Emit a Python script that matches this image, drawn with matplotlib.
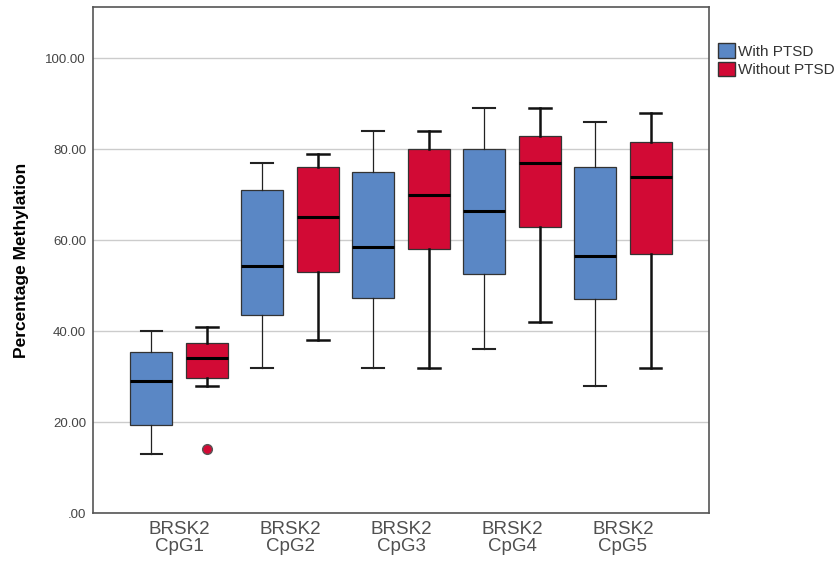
import numpy as np
import matplotlib.pyplot as plt
from matplotlib.patches import Patch
from matplotlib.ticker import FuncFormatter, MultipleLocator

plt.rcParams['font.family'] = ['Liberation Sans', 'DejaVu Sans']

categories = ["BRSK2\nCpG1", "BRSK2\nCpG2", "BRSK2\nCpG3", "BRSK2\nCpG4", "BRSK2\nCpG5"]

# box stats: low whisker, Q1, median, Q3, high whisker
with_low = [13, 32, 32, 36, 28]
with_q1 = [19.4, 43.5, 47.4, 52.5, 47]
with_med = [29, 54.4, 58.5, 66.5, 56.5]
with_q3 = [35.5, 71, 75, 80, 76]
with_high = [40, 77, 84, 89, 86]
with_fliers = [[], [], [], [], []]

without_low = [28, 38, 32, 42, 32]
without_q1 = [29.8, 53, 58, 63, 57]
without_med = [34, 65, 70, 77, 74]
without_q3 = [37.5, 76, 80, 83, 81.5]
without_high = [41, 79, 84, 89, 88]
without_fliers = [[14], [], [], [], []]

blue = "#5a87c5"
red = "#d20a35"


def make_stats(low, q1, med, q3, high, fliers):
    stats = []
    for i in range(len(low)):
        stats.append({"whislo": low[i], "q1": q1[i], "med": med[i],
                      "q3": q3[i], "whishi": high[i], "fliers": fliers[i]})
    return stats


fig = plt.figure(figsize=(8.38, 5.65), dpi=100)
ax = fig.add_axes([93 / 838, 52 / 565, 616 / 838, 506 / 565])

x = np.arange(len(categories))
off = 0.252
width = 0.38

ax.bxp(make_stats(with_low, with_q1, with_med, with_q3, with_high, with_fliers),
       positions=x - off, widths=width, patch_artist=True, showfliers=True,
       boxprops=dict(facecolor=blue, edgecolor="#333333", linewidth=0.9),
       whiskerprops=dict(color="#222222", linewidth=0.9),
       capprops=dict(color="#222222", linewidth=1.5), capwidths=width / 2,
       medianprops=dict(color="black", linewidth=2.2),
       flierprops=dict(marker="o", markerfacecolor=blue, markeredgecolor="#333333", markersize=7))
ax.bxp(make_stats(without_low, without_q1, without_med, without_q3, without_high, without_fliers),
       positions=x + off, widths=width, patch_artist=True, showfliers=True,
       boxprops=dict(facecolor=red, edgecolor="#333333", linewidth=0.9),
       whiskerprops=dict(color="#111111", linewidth=1.8),
       capprops=dict(color="#111111", linewidth=1.8), capwidths=width / 2,
       medianprops=dict(color="black", linewidth=2.2),
       flierprops=dict(marker="o", markerfacecolor=red, markeredgecolor="#555555", markersize=7))

ax.set_xlim(-0.775, len(categories) - 1 + 0.775)
ax.set_ylim(0, 111.3)
ax.set_xticks(x)
ax.set_xticklabels(categories, fontsize=13.5, color="#505050", linespacing=0.95)
ax.yaxis.set_major_locator(MultipleLocator(20))
ax.yaxis.set_major_formatter(FuncFormatter(lambda v, p: f"{v:.2f}".lstrip("0")))
ax.tick_params(axis="y", length=0, pad=5, labelsize=9.5, labelcolor="#444444")
ax.tick_params(axis="x", length=0, pad=6)
ax.grid(axis="y", color="#cccccc", linewidth=1)
ax.set_axisbelow(True)
for s in ax.spines.values():
    s.set_color("#555555")
    s.set_linewidth(1.2)

ax.set_ylabel("Percentage Methylation", fontsize=12.5, fontweight="bold", labelpad=12)

handles = [Patch(facecolor=blue, edgecolor="#333333", label="With PTSD"),
           Patch(facecolor=red, edgecolor="#333333", label="Without PTSD")]
fig.legend(handles=handles, loc="upper left", bbox_to_anchor=(718 / 838, 1 - 43 / 565),
           frameon=False, fontsize=11, handlelength=1.1, handleheight=1.1,
           handletextpad=0.2, labelspacing=0.2, borderaxespad=0, borderpad=0,
           labelcolor="#333333")

fig.savefig("out.png", dpi=100)
